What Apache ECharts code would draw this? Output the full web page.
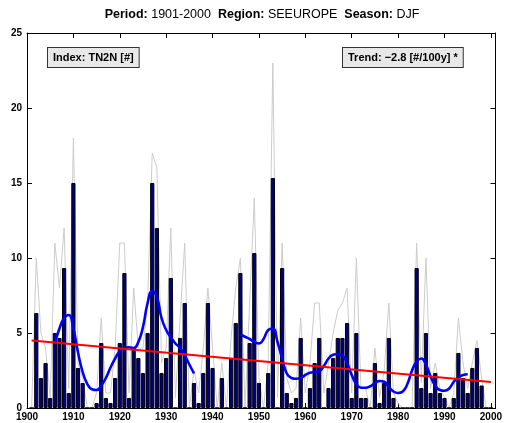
<!DOCTYPE html>
<html>
<head>
<meta charset="utf-8">
<script src="https://cdn.jsdelivr.net/npm/echarts@6/dist/echarts.min.js"></script>
<style>html,body{margin:0;padding:0;background:#fff}#c{width:505px;height:423px}</style>
</head>
<body>
<div id="c"></div>
<script>
// Data (years 1901..2000)
var startYear = 1901;
var indexValues = [
  0, 6.33, 2.0, 3.0, 0.67, 5.0, 4.67, 9.33, 1.0, 15.0,
  2.67, 1.67, 0, 0, 0.33, 4.33, 0.67, 0.33, 2.0, 4.33,
  9.0, 0.67, 4.0, 3.33, 2.33, 5.0, 15.0, 12.0, 2.33, 3.33,
  8.67, 0, 4.67, 7.0, 0, 1.67, 0.33, 2.33, 7.0, 2.67,
  0, 2.0, 0, 3.33, 5.67, 9.0, 0, 4.33, 10.33, 1.67,
  0, 2.33, 15.33, 0, 9.33, 1.0, 0.33, 0.67, 4.67, 0,
  1.33, 3.0, 4.67, 0, 1.33, 3.33, 4.67, 4.67, 5.67, 0.67,
  5.0, 0.67, 0.67, 0, 3.0, 0.33, 1.67, 4.67, 0.67, 0,
  0, 0, 0, 9.33, 1.33, 5.0, 1.0, 2.33, 1.0, 0.67,
  0, 0.67, 3.67, 2.0, 1.0, 2.67, 4.0, 1.5, 0, 0
];
var greyValues = [
  0, 10, 5, 4, 0.7, 11, 8, 12, 1.3, 18,
  3, 2, 0, 0, 1, 6, 1, 1, 4, 11,
  11, 1, 8, 4, 4, 7, 17, 16, 3, 4,
  12, 0.7, 6, 11, 0, 2.5, 1, 4, 8, 4,
  0, 3, 0, 4.7, 8, 10, 0, 7, 14, 2,
  0, 3, 23, 0.7, 11, 2, 1, 1.3, 6, 1,
  3, 7, 7, 1, 3, 5, 6.5, 7, 8, 1,
  10, 1.3, 1.3, 0, 4, 0.7, 2.5, 7, 1, 0.3,
  0, 0, 0, 11, 1.7, 10, 1.3, 3, 1.3, 0.7,
  0, 1, 6, 3, 1.3, 3, 4.5, 2, 0, 0
];
var smoothValues = [
  null, null, null, null, null, 4.3, 5.3, 6.0, 6.2, 5.3,
  3.7, 2.4, 1.6, 1.25, 1.2, 1.5, 2.0, 2.7, 3.3, 3.8,
  4.0, 4.05, 4.0, 4.4, 5.4, 7.0, 7.8, 7.4, 6.0, 5.2,
  4.7, 4.3, 4.0, 3.5, 2.9, 2.3, null, null, null, null,
  null, null, null, null, null, 4.9, 4.75, 4.6, 4.4, 4.3,
  4.6, 5.2, 5.3, 4.4, 3.3, 2.3, 2.0, 1.95, 2.0, 2.2,
  2.35, 2.4, 2.45, 2.8, 3.3, 3.55, 3.6, 3.5, 3.0, 2.2,
  1.6, 1.35, 1.35, 1.45, 1.65, 1.8, 1.75, 1.4, 1.1, 1.0,
  1.1, 1.6, 2.5, 3.1, 3.3, 2.9, 2.1, 1.5, 1.2, 1.15,
  1.3, 1.75, 2.05, 2.2, 2.25, null, null, null, null, null
];
var trendYears = [1901, 2000];
var trendValues = [4.5, 1.73];
var xTicks = [1900, 1910, 1920, 1930, 1940, 1950, 1960, 1970, 1980, 1990, 2000];
var yTicks = [0, 5, 10, 15, 20, 25];
var titleParts = ['Period:', '1901-2000', 'Region:', 'SEEUROPE', 'Season:', 'DJF'];
var indexLabel = 'Index: TN2N [#]';
var trendLabel = 'Trend: \u22122.8 [#/100y] *';

function pairs(vals) {
  return vals.map(function (v, i) { return [startYear + i, v]; });
}

var FONT = '"Liberation Sans", Arial, Helvetica, sans-serif';
var chart = echarts.init(document.getElementById('c'), null, {renderer: 'canvas'});

var axisCommon = {
  type: 'value',
  axisLine: {show: true, onZero: false, lineStyle: {color: '#000', width: 1}},
  axisTick: {show: true, inside: true, length: 5, lineStyle: {color: '#000', width: 1}},
  splitLine: {show: false}
};
function plain(v) { return String(v); }

var option = {
  animation: false,
  backgroundColor: '#fff',
  grid: {left: 27, top: 33, width: 470, height: 375, containLabel: false},
  xAxis: [
    Object.assign({}, axisCommon, {
      position: 'bottom', min: 1900, max: 2001,
      axisTick: Object.assign({}, axisCommon.axisTick, {customValues: xTicks}),
      axisLabel: {show: true, customValues: xTicks, formatter: plain, color: '#000', fontFamily: FONT, fontWeight: 'bold', fontSize: 10, margin: 4}
    }),
    Object.assign({}, axisCommon, {
      position: 'top', min: 1900, max: 2001,
      axisTick: Object.assign({}, axisCommon.axisTick, {customValues: xTicks}),
      axisLabel: {show: false}
    })
  ],
  yAxis: [
    Object.assign({}, axisCommon, {
      position: 'left', min: 0, max: 25, interval: 5,
      axisLabel: {show: true, formatter: plain, color: '#000', fontFamily: FONT, fontWeight: 'bold', fontSize: 10, margin: 5,
        customValues: yTicks}
    }),
    Object.assign({}, axisCommon, {
      position: 'right', min: 0, max: 25, interval: 5,
      axisLabel: {show: false}
    })
  ],
  series: [
    {
      type: 'line', data: pairs(greyValues), symbol: 'none', z: 1,
      lineStyle: {color: '#cccccc', width: 1}, silent: true
    },
    {
      type: 'bar', data: pairs(indexValues), barWidth: 4.2, z: 2,
      itemStyle: {color: '#00007f', borderColor: '#000000', borderWidth: 1}
    },
    {
      type: 'line', data: pairs(smoothValues), symbol: 'none', smooth: 0.5, connectNulls: false, z: 3,
      lineStyle: {color: '#0000ff', width: 2.6}
    },
    {
      type: 'line', data: trendYears.map(function (y, i) { return [y, trendValues[i]]; }), symbol: 'none', z: 4,
      lineStyle: {color: '#ff0000', width: 2}
    }
  ],
  graphic: [
    {
      type: 'text', x: 262, y: 15, z: 10,
      style: {
        text: '{b|' + titleParts[0] + '} ' + titleParts[1] + '  {b|' + titleParts[2] + '} ' + titleParts[3] + '  {b|' + titleParts[4] + '} ' + titleParts[5],
        font: '12.5px ' + FONT, fill: '#000', align: 'center', verticalAlign: 'middle',
        rich: {b: {fontWeight: 'bold', fontSize: 12.5, fontFamily: FONT}}
      }
    },
    {
      type: 'text', x: 48, y: 48, z: 10,
      style: {
        text: indexLabel, font: 'bold 11px ' + FONT, fill: '#000',
        backgroundColor: '#e8e8e8', borderColor: '#333', borderWidth: 1,
        padding: [4, 5, 4, 5]
      }
    },
    {
      type: 'text', x: 343, y: 48, z: 10,
      style: {
        text: trendLabel, font: 'bold 11px ' + FONT, fill: '#000',
        backgroundColor: '#e8e8e8', borderColor: '#333', borderWidth: 1,
        padding: [4, 5, 4, 5]
      }
    }
  ]
};
chart.setOption(option);
</script>
</body>
</html>
